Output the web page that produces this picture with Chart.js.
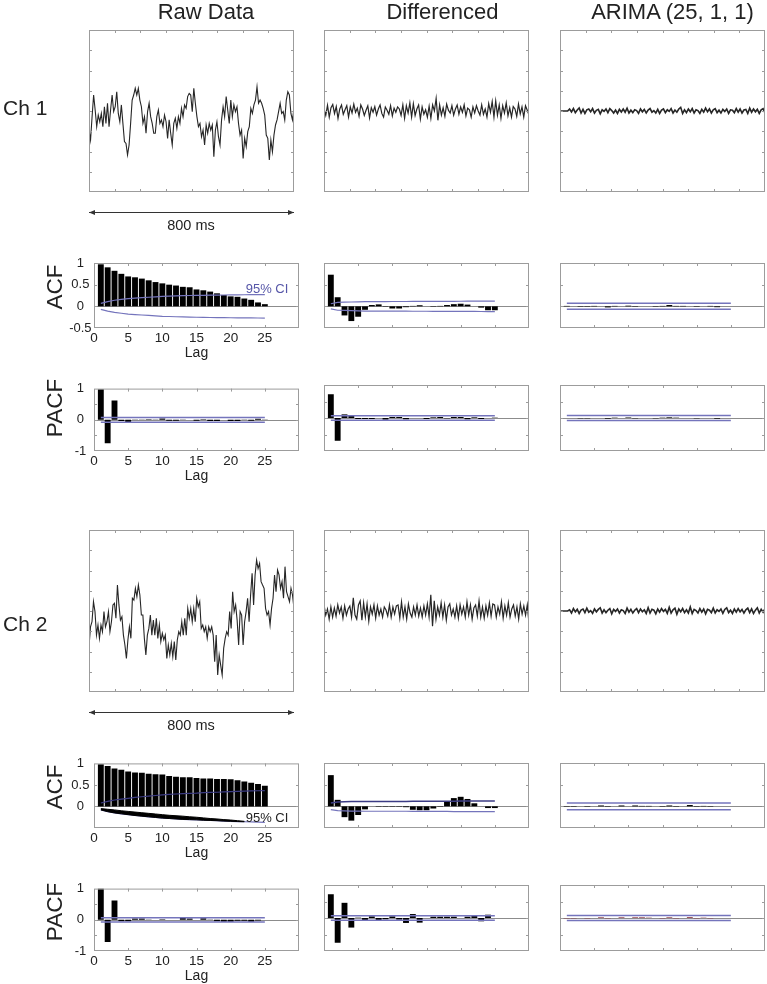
<!DOCTYPE html>
<html>
<head>
<meta charset="utf-8">
<title>Raw / Differenced / ARIMA ACF-PACF</title>
<script src="https://cdn.jsdelivr.net/npm/chart.js@4.4.1/dist/chart.umd.min.js"></script>
<style>
  html, body { margin: 0; padding: 0; background: #fff; }
  body { font-family: "Liberation Sans", Arial, Helvetica, sans-serif; color: #222; }
  #fig { position: relative; width: 767px; height: 984px; overflow: hidden; }
  #fig canvas { position: absolute; }
  #ov { position: absolute; left: 0; top: 0; }
  .lbl { position: absolute; white-space: nowrap; line-height: 1; transform: translate(-50%, -50%); }
  .col { font-size: 22px; }
  .ch { font-size: 21px; transform: translate(0, -50%); }
  .fn { font-size: 22.5px; transform: translate(-50%, -50%) rotate(-90deg); }
  .span { font-size: 14.5px; }
  .ci { font-size: 13px; }
</style>
</head>
<body>
<div id="fig">
  <svg id="ov" width="767" height="984">
    <defs>
      <marker id="ah" viewBox="0 0 10 10" refX="10" refY="5" markerWidth="7" markerHeight="6" orient="auto-start-reverse">
        <path d="M0,1 L10,5 L0,9 z" fill="#333"></path>
      </marker>
    </defs>
    <line x1="89" y1="212.5" x2="294" y2="212.5" stroke="#333" stroke-width="1" marker-start="url(#ah)" marker-end="url(#ah)"></line>
    <line x1="89" y1="712.5" x2="294" y2="712.5" stroke="#333" stroke-width="1" marker-start="url(#ah)" marker-end="url(#ah)"></line>
  </svg>
</div>
<script>
// ---- data ----
const columnTitles = ['Raw Data', 'Differenced', 'ARIMA (25, 1, 1)'];
const channelNames = ['Ch 1', 'Ch 2'];
const spanMs = 800;
const lags = [1, 2, 3, 4, 5, 6, 7, 8, 9, 10, 11, 12, 13, 14, 15, 16, 17, 18, 19, 20, 21, 22, 23, 24, 25];
const lagTicks = [0, 5, 10, 15, 20, 25];
const acfTicksCh1 = [-0.5, 0, 0.5, 1];
const acfTicksCh2 = [0, 0.5, 1];
const pacfTicks = [-1, 0, 1];

// signals (arbitrary units)
const ch1Raw = [-0.94,-1.43,-0.28,0.79,0.05,-0.77,-0.2,-0.53,-0.12,-0.77,0.21,-0.61,0.38,-0.77,0.05,0.79,-0.03,0.21,0.95,-0.12,-0.53,0.3,-0.61,-1.51,-1.6,-2.17,-1.68,-0.61,0.54,0.79,1.12,0.79,1.12,0.54,0.21,-0.61,-0.28,-1.1,-0.03,0.38,-0.28,-0.61,-1.1,-1.1,-0.28,0.05,-0.61,-0.44,-0.77,-0.2,-0.53,-1.35,-0.44,-1.1,-1.68,-0.61,-0.36,-0.86,-0.28,-0.61,0.13,-0.28,0.3,0.13,0.71,0.87,
  0.79,-0.03,1.12,0.38,-0.28,-0.77,-0.61,-1.27,-0.94,-1.68,-0.69,-1.1,-0.61,-0.94,-0.69,-2.26,-0.94,-0.53,-1.27,-1.68,-0.44,0.21,-0.28,0.71,0.05,-0.61,0.54,-0.28,0.3,-0.03,0.21,-0.61,-1.19,-0.94,-2.34,-1.35,-1.76,-1.02,-0.77,0.13,-0.12,0.3,0.54,1.2,0.38,0.54,0.38,0.13,-0.2,-1.19,-1.35,-2.42,-1.43,-2.01,-1.19,-0.69,-0.44,-0.03,0.38,-0.12,-0.03,-0.44,0.54,0.95,0.79,-0.12,-0.44,0.13];
const ch2Raw = [-1.76,-0.78,-0.53,0.46,-0.03,-1.19,-0.69,-1.35,-0.69,-1.02,-0.03,-0.78,-0.53,-0.03,-1.02,-0.53,0.3,0.38,-0.36,1.28,0.3,-0.45,-0.28,-1.19,-1.68,-2.34,-1.43,-0.78,-1.35,0.63,0.54,1.12,0.71,1.28,0.79,-0.2,-0.2,-1.35,-2.17,-1.19,-0.86,-0.2,-1.19,-0.45,-1.19,-0.36,-1.35,-0.69,-1.51,-1.1,-1.43,-1.19,-2.34,-1.68,-2.17,-1.6,-2.26,-1.51,-2.42,-1.43,-1.02,-1.19,-0.53,-1.19,-0.36,-1.19,0.13,-0.36,0.13,-0.53,
  0.13,-0.53,0.63,0.21,0.46,-0.86,-0.69,-1.02,-0.78,-1.35,-0.78,-1.02,-0.78,-1.19,-2.5,-1.19,-3.16,-2.17,-2.67,-3.16,-1.84,-1.35,-1.02,-1.19,-0.03,-0.86,0.95,-0.03,0.3,-0.45,-1.68,-0.03,-0.2,-1.68,-0.53,-0.03,0.63,-0.53,0.79,1.86,0.3,1.78,2.52,2.1,2.35,1.45,1.28,1.12,0.13,-0.2,-0.03,-0.69,0.13,0.63,1.78,0.95,2.02,1.78,1.12,1.45,0.63,2.19,0.95,0.71,0.46,1.12,0.79,0.13];
const ch1Diff = [0.12,-0.22,0.28,-0.30,0.16,0.32,-0.12,0.22,-0.36,0.10,0.30,-0.16,0.06,0.26,-0.30,0.20,-0.10,0.34,-0.06,0.14,-0.26,0.30,0.10,-0.22,0.04,0.26,-0.34,0.16,-0.06,0.22,-0.20,0.10,0.30,-0.12,-0.30,0.20,0.04,-0.16,0.26,-0.24,0.14,-0.06,0.20,0.10,-0.22,0.30,-0.36,0.26,-0.10,0.40,-0.30,0.36,-0.22,0.10,0.30,-0.40,0.20,-0.16,0.06,-0.30,0.24,-0.36,0.30,0.00,0.62,-0.46,0.30,-0.20,0.16,-0.26,0.34,0.04,-0.10,0.26,-0.20,0.10,0.30,-0.16,0.20,-0.06,0.30,-0.24,0.14,0.06,-0.30,0.20,-0.10,0.26,0.00,-0.20,0.30,-0.16,0.10,-0.30,0.36,-0.06,0.46,-0.30,0.50,-0.20,0.30,-0.36,0.26,-0.10,0.40,-0.24,0.16,-0.30,0.22,0.10,-0.26,0.34,-0.14,0.20,-0.30,0.26,0.04,-0.20];
const ch2Diff = [0.3,-0.2,0.1,-0.4,0.2,-0.3,0.15,-0.25,0.3,-0.1,0.2,-0.35,0.25,-0.2,0.1,0.25,-0.3,0.65,-0.2,-0.4,0.3,0.5,-0.45,0.4,-0.3,0.35,-0.5,0.2,-0.15,0.3,-0.35,0.25,-0.2,0.1,-0.3,0.2,0.05,-0.25,0.3,-0.3,0.2,-0.15,0.25,0.3,-0.35,0.45,-0.3,0.2,-0.4,0.35,-0.1,-0.3,0.2,-0.2,0.3,-0.25,0.15,-0.3,0.25,-0.2,0.35,-0.3,0.8,-0.75,0.5,-0.4,0.2,-0.2,0.4,-0.3,0.3,-0.45,0.2,0.35,-0.2,0.1,-0.3,0.25,-0.35,0.3,-0.15,0.2,-0.3,0.45,-0.2,0.3,-0.4,0.15,0.3,-0.25,0.5,-0.3,0.2,-0.35,0.25,-0.2,0.4,-0.25,0.35,0.3,-0.3,0.2,-0.15,0.45,-0.35,0.25,-0.2,0.4,-0.3,0.1,0.3,-0.25,0.2,-0.4,0.35,-0.15,0.25,-0.2,0.3,-0.6];
const ch1Arima = [0,0,0,0,0,0.1,-0.05,0.12,-0.08,0.05,0.15,-0.1,0.08,-0.12,0.06,0.1,-0.04,0.12,-0.1,0.03,0.08,-0.14,0.06,-0.02,0.1,-0.08,0.12,0.02,-0.1,0.05,-0.12,0.08,-0.05,0.1,-0.06,0.14,-0.1,0.04,-0.08,0.06,0.02,-0.12,0.1,-0.04,0.08,-0.1,0.05,0.12,-0.06,0.02,-0.1,0.08,-0.12,0.04,0.1,-0.08,0.06,-0.02,0.12,-0.1,0.05,-0.06,0.1,0.18,-0.12,0.06,-0.08,0.1,-0.04,0.12,-0.1,0.06,0.02,-0.12,0.08,-0.06,0.14,-0.04,0.1,-0.1,0.06,0.12,-0.08,0.04,-0.1,0.08,-0.02,0.1,-0.12,0.06,0.04,-0.08,0.12,-0.06,0.1,-0.1,0.05,0.08,-0.12,0.14,-0.06,0.1,-0.04,0.08,-0.12,0.06,0.12,-0.1];
const ch2Arima = [0,0,0,0,0,0.06,-0.1,0.12,-0.04,0.08,-0.12,0.05,0.1,-0.08,0.14,-0.06,0.02,-0.12,0.1,-0.04,0.08,0.16,-0.1,0.06,-0.08,0.04,0.12,-0.14,0.08,-0.02,0.1,-0.1,0.06,0.02,-0.12,0.14,-0.06,0.08,-0.1,0.04,0.12,-0.08,0.1,-0.04,0.06,-0.12,0.16,-0.1,0.08,0.04,-0.14,0.1,-0.06,0.12,-0.02,0.08,-0.12,0.18,-0.1,0.06,0.14,-0.16,0.1,-0.04,0.12,-0.08,0.06,-0.1,0.2,-0.12,0.08,0.02,-0.1,0.12,-0.06,0.1,-0.14,0.08,0.04,-0.08,0.14,-0.1,0.06,-0.02,0.1,-0.12,0.08,0.16,-0.08,0.04,-0.12,0.1,-0.06,0.12,-0.04,0.08,-0.1,0.06,0.14,-0.08,0.1,-0.12,0.04,0.16,-0.1,0.08,-0.06,0.12];

// autocorrelations, lags 1..25
const ch1RawAcf = [0.97,0.90,0.82,0.75,0.69,0.67,0.64,0.60,0.56,0.53,0.50,0.48,0.45,0.44,0.39,0.37,0.34,0.30,0.26,0.23,0.22,0.18,0.15,0.09,0.05];
const ch1DiffAcf = [0.73,0.21,-0.21,-0.34,-0.24,-0.08,0.03,0.045,-0.01,-0.05,-0.05,-0.02,0.01,0.025,0.0,-0.01,0.01,0.03,0.05,0.06,0.04,0.0,-0.03,-0.09,-0.09];
const ch1ArimaAcf = [0.01,0.0,-0.01,-0.01,0.01,0.0,-0.025,0.01,0.0,0.015,-0.01,0.0,0.0,-0.01,0.01,0.03,0.01,0.01,0.0,-0.01,0.0,0.01,-0.02,0.0,0.0];
const ch1RawPacf = [0.98,-0.75,0.62,-0.04,-0.08,-0.01,0.01,0.02,0.01,0.04,-0.03,-0.03,0.01,0.0,-0.03,0.02,-0.04,-0.04,0.0,-0.04,-0.04,0.01,-0.03,0.03,-0.01];
const ch1DiffPacf = [0.72,-0.69,0.11,0.06,-0.03,-0.03,-0.03,0.0,-0.05,0.03,0.03,-0.04,0.0,0.0,-0.03,0.02,0.03,-0.01,0.03,0.03,-0.04,0.02,-0.03,0.0,0.01];
const ch1ArimaPacf = [0.0,0.0,-0.01,-0.01,0.0,0.0,-0.02,0.01,0.0,0.015,-0.01,0.0,0.0,-0.01,0.01,0.02,0.01,0.0,0.0,-0.01,0.0,0.0,-0.02,0.0,0.0];

const ch2RawAcf = [0.98,0.94,0.88,0.85,0.81,0.79,0.78,0.76,0.75,0.74,0.71,0.69,0.68,0.68,0.66,0.65,0.65,0.64,0.64,0.63,0.61,0.58,0.55,0.52,0.48];
const ch2DiffAcf = [0.72,0.15,-0.25,-0.33,-0.20,-0.07,0.0,-0.01,-0.01,-0.01,-0.01,-0.02,-0.08,-0.09,-0.09,-0.05,-0.01,0.10,0.19,0.22,0.17,0.07,0.0,-0.04,-0.04];
const ch2ArimaAcf = [-0.01,-0.01,0.0,-0.01,0.0,0.02,-0.01,0.0,0.02,0.0,0.02,0.01,0.01,0.0,-0.01,0.02,-0.01,0.0,0.03,-0.01,0.01,-0.01,0.0,0.0,0.0];
const ch2RawPacf = [1.0,-0.71,0.62,-0.05,-0.05,0.04,0.04,-0.01,0.0,0.02,0.0,0.0,0.07,0.04,0.0,0.05,0.01,-0.05,-0.06,-0.06,-0.03,-0.03,-0.06,-0.02,0.0];
const ch2DiffPacf = [0.72,-0.75,0.46,-0.29,0.01,-0.06,0.05,-0.06,-0.04,0.05,-0.05,-0.15,0.12,-0.14,0.0,0.04,0.04,0.04,0.04,0.0,0.04,0.06,-0.10,0.10,0.0];
const ch2ArimaPacf = [-0.01,-0.01,0.0,-0.01,0.0,0.02,-0.01,0.0,0.02,0.0,0.02,0.02,0.01,0.0,-0.01,0.02,-0.01,0.0,0.025,-0.01,0.01,-0.01,0.0,0.0,0.0];

// 95% confidence bounds
const ch1RawAcfCi = [0.07,0.11,0.14,0.16,0.18,0.19,0.2,0.21,0.22,0.23,0.235,0.24,0.245,0.25,0.252,0.255,0.258,0.26,0.262,0.264,0.266,0.267,0.268,0.269,0.27];
const ch1DiffAcfCi = [0.06,0.09,0.095,0.1,0.105,0.11,0.11,0.11,0.11,0.112,0.112,0.112,0.114,0.114,0.114,0.115,0.115,0.115,0.116,0.117,0.118,0.118,0.119,0.12,0.12];
const ch2RawAcfCi = [0.08,0.12,0.15,0.17,0.19,0.21,0.225,0.24,0.255,0.27,0.28,0.29,0.3,0.305,0.31,0.32,0.325,0.33,0.34,0.345,0.35,0.355,0.36,0.365,0.37];
const ch2RawAcfBand = [0.05,0.065,0.08,0.1,0.115,0.13,0.145,0.16,0.175,0.19,0.205,0.215,0.225,0.24,0.25,0.265,0.28,0.29,0.305,0.315,0.33,0.345];
const ch2DiffAcfCi = [0.077,0.1,0.105,0.11,0.112,0.113,0.113,0.113,0.113,0.113,0.114,0.114,0.115,0.116,0.116,0.117,0.117,0.118,0.12,0.122,0.123,0.123,0.123,0.123,0.124];
const ch1ArimaAcfCi = 0.07, ch2ArimaAcfCi = 0.077;
const ch1RawPacfCi = 0.075, ch1DiffPacfCi = 0.07, ch1ArimaPacfCi = 0.072;
const ch2RawPacfCi = 0.068, ch2DiffPacfCi = 0.07, ch2ArimaPacfCi = 0.075;

// ---- layout ----
const colX = [89, 324, 560];
const lagColX = [94, 324, 560];
const boxW = 205;
const rowTop = [0, 500];
const PAD = { l: 60, t: 12, r: 12, b: 34 };
const CI_BLUE = '#7474bc';
const CI_DARK = '#3c3c84';

Chart.defaults.font.family = '"Liberation Sans", Arial, Helvetica, sans-serif';
Chart.defaults.color = '#222';

// box with inward tick marks, plus optional zero line
const frame = {
  id: 'frame',
  beforeDatasetsDraw(chart, args, o) {
    if (!o.zero) return;
    const { ctx, chartArea: a } = chart;
    const py = Math.round(chart.scales.y.getPixelForValue(0)) + 0.5;
    ctx.save();
    ctx.strokeStyle = '#8c8c8c';
    ctx.lineWidth = 1;
    ctx.beginPath();
    ctx.moveTo(a.left, py);
    ctx.lineTo(a.right, py);
    ctx.stroke();
    ctx.restore();
  },
  afterDraw(chart) {
    const { ctx, chartArea: a, scales: { x, y } } = chart;
    ctx.save();
    ctx.strokeStyle = '#9c9c9c';
    ctx.lineWidth = 1;
    ctx.strokeRect(a.left + 0.5, a.top + 0.5, a.width - 1, a.height - 1);
    ctx.beginPath();
    x.ticks.forEach(t => {
      const px = Math.round(x.getPixelForValue(t.value)) + 0.5;
      if (px < a.left + 2 || px > a.right - 2) return;
      ctx.moveTo(px, a.top); ctx.lineTo(px, a.top + 3);
      ctx.moveTo(px, a.bottom); ctx.lineTo(px, a.bottom - 3);
    });
    y.ticks.forEach(t => {
      const py = Math.round(y.getPixelForValue(t.value)) + 0.5;
      if (py < a.top + 2 || py > a.bottom - 2) return;
      ctx.moveTo(a.left, py); ctx.lineTo(a.left + 3, py);
      ctx.moveTo(a.right, py); ctx.lineTo(a.right - 3, py);
    });
    ctx.stroke();
    ctx.restore();
  }
};

const fig = document.getElementById('fig');

function panel(box, type, datasets, sc) {
  const cv = document.createElement('canvas');
  const W = box.w + PAD.l + PAD.r, H = box.h + PAD.t + PAD.b;
  cv.width = W; cv.height = H;
  cv.style.left = (box.x - PAD.l) + 'px';
  cv.style.top = (box.y - PAD.t) + 'px';
  cv.style.width = W + 'px';
  cv.style.height = H + 'px';
  fig.appendChild(cv);
  new Chart(cv, {
    type: type,
    data: { datasets: datasets },
    options: {
      responsive: false,
      animation: false,
      events: [],
      layout: { padding: { left: 0, top: PAD.t, right: PAD.r, bottom: 0 } },
      plugins: { legend: { display: false }, tooltip: { enabled: false }, frame: { zero: !!sc.zero } },
      scales: {
        x: {
          type: 'linear', min: sc.xMin, max: sc.xMax, offset: false,
          grid: { display: false, drawTicks: false }, border: { display: false },
          afterFit: s => { s.height = PAD.b; },
          ticks: {
            stepSize: sc.xStep, display: !!sc.xLabels, autoSkip: false, maxRotation: 0, padding: 2,
            font: { size: 13.5 },
            callback: v => (sc.xLabels && sc.xLabels.includes(v)) ? v : ''
          },
          title: { display: !!sc.xTitle, text: sc.xTitle, font: { size: 14 }, padding: { top: 0, bottom: 0.6 } }
        },
        y: {
          min: sc.yMin, max: sc.yMax,
          grid: { display: false, drawTicks: false }, border: { display: false },
          afterFit: s => { s.width = PAD.l; },
          ticks: {
            stepSize: sc.yStep, display: !!sc.yLabels, autoSkip: false, crossAlign: 'center',
            padding: sc.yPad || 2, font: { size: 13 },
            callback: v => (sc.yLabels && sc.yLabels.includes(v)) ? v : ''
          }
        }
      }
    },
    plugins: [frame]
  });
}

const toSeries = arr => arr.map((v, i) => ({ x: i * spanMs / (arr.length - 1), y: v }));
const toLag = arr => arr.map((v, i) => ({ x: lags[i], y: v }));
const neg = arr => arr.map(v => -v);
const flat = c => [{ x: lags[0], y: c }, { x: lags[lags.length - 1], y: c }];

function signalPanel(col, row, values, width) {
  panel({ x: colX[col], y: 30 + rowTop[row], w: boxW, h: 162 }, 'line', [{
    data: toSeries(values), borderColor: '#262626', borderWidth: width, pointRadius: 0, tension: 0
  }], { xMin: 0, xMax: spanMs, xStep: 100, yMin: -4, yMax: 4, yStep: 1 });
}

function ciLine(data, color, width) {
  return { type: 'line', data: data, borderColor: color, borderWidth: width || 1.2, pointRadius: 0, tension: 0, order: 1 };
}
function bars(values, color) {
  return { type: 'bar', data: toLag(values), backgroundColor: color || '#000', borderWidth: 0,
    barPercentage: 0.86, categoryPercentage: 1, order: 2 };
}

function corrPanel(col, row, kind, ds, yLabels, yPad) {
  const isAcf = kind === 'acf';
  const raw = col === 0;
  panel({ x: lagColX[col], y: (isAcf ? 263 : 385) + rowTop[row], w: boxW, h: isAcf ? 65 : 66 }, 'bar', ds, {
    xMin: 0, xMax: 30, xStep: 5, yMin: isAcf ? -0.5 : -1, yMax: 1, yStep: 0.5, zero: true,
    xLabels: raw ? lagTicks : null, xTitle: raw ? 'Lag' : null,
    yLabels: raw ? yLabels : null, yPad: yPad
  });
}

// signals
signalPanel(0, 0, ch1Raw, 1.1); signalPanel(1, 0, ch1Diff, 1.2); signalPanel(2, 0, ch1Arima, 1.6);
signalPanel(0, 1, ch2Raw, 1.1); signalPanel(1, 1, ch2Diff, 1.2); signalPanel(2, 1, ch2Arima, 1.6);

// Ch 1 ACF
corrPanel(0, 0, 'acf', [ciLine(toLag(ch1RawAcfCi), CI_BLUE), ciLine(toLag(neg(ch1RawAcfCi)), CI_BLUE), bars(ch1RawAcf)], acfTicksCh1, 2.4);
corrPanel(1, 0, 'acf', [ciLine(toLag(ch1DiffAcfCi), CI_BLUE), ciLine(toLag(neg(ch1DiffAcfCi)), CI_BLUE), bars(ch1DiffAcf)]);
corrPanel(2, 0, 'acf', [ciLine(flat(ch1ArimaAcfCi), CI_BLUE, 1.5), ciLine(flat(-ch1ArimaAcfCi), CI_BLUE, 1.5), bars(ch1ArimaAcf)]);
// Ch 1 PACF
corrPanel(0, 0, 'pacf', [ciLine(flat(ch1RawPacfCi), CI_BLUE, 1.5), ciLine(flat(-ch1RawPacfCi), CI_BLUE, 1.5), bars(ch1RawPacf)], pacfTicks, 7.8);
corrPanel(1, 0, 'pacf', [ciLine(flat(ch1DiffPacfCi), CI_BLUE, 1.5), ciLine(flat(-ch1DiffPacfCi), CI_BLUE, 1.5), bars(ch1DiffPacf)]);
corrPanel(2, 0, 'pacf', [ciLine(flat(ch1ArimaPacfCi), CI_BLUE, 1.5), ciLine(flat(-ch1ArimaPacfCi), CI_BLUE, 1.5), bars(ch1ArimaPacf)]);

// Ch 2 ACF (black band along the lower bound of the raw panel)
const bandTop = toLag(neg(ch2RawAcfBand));
const bandBottom = toLag(neg(ch2RawAcfCi)).slice(0, ch2RawAcfBand.length);
corrPanel(0, 1, 'acf', [
  ciLine(toLag(ch2RawAcfCi), CI_DARK),
  Object.assign(ciLine(bandTop, '#000', 1), { fill: '+1', backgroundColor: '#000' }),
  ciLine(bandBottom, '#000', 1),
  ciLine(toLag(neg(ch2RawAcfCi)), CI_BLUE),
  bars(ch2RawAcf)
], acfTicksCh2, 4.6);
corrPanel(1, 1, 'acf', [ciLine(toLag(ch2DiffAcfCi), CI_DARK, 1.5), ciLine(toLag(neg(ch2DiffAcfCi)), CI_BLUE), bars(ch2DiffAcf)]);
corrPanel(2, 1, 'acf', [ciLine(flat(ch2ArimaAcfCi), CI_BLUE, 1.5), ciLine(flat(-ch2ArimaAcfCi), CI_BLUE, 1.5), bars(ch2ArimaAcf)]);
// Ch 2 PACF
corrPanel(0, 1, 'pacf', [ciLine(flat(ch2RawPacfCi), CI_BLUE, 1.5), ciLine(flat(-ch2RawPacfCi), CI_BLUE, 1.5), bars(ch2RawPacf)], pacfTicks, 7.8);
corrPanel(1, 1, 'pacf', [ciLine(flat(ch2DiffPacfCi), CI_BLUE, 1.5), ciLine(flat(-ch2DiffPacfCi), CI_BLUE, 1.5), bars(ch2DiffPacf)]);
corrPanel(2, 1, 'pacf', [ciLine(flat(ch2ArimaPacfCi), CI_BLUE, 1.5), ciLine(flat(-ch2ArimaPacfCi), CI_BLUE, 1.5), bars(ch2ArimaPacf, '#8b3040')]);

// ---- text ----
function label(text, cls, x, y, color) {
  const d = document.createElement('div');
  d.className = 'lbl ' + cls;
  d.textContent = text;
  d.style.left = x + 'px';
  d.style.top = y + 'px';
  if (color) d.style.color = color;
  fig.appendChild(d);
}
[206, 442.5, 672.5].forEach((x, i) => label(columnTitles[i], 'col', x, 12));
label(channelNames[0], 'ch', 3, 107);
label(channelNames[1], 'ch', 3, 623);
label(spanMs + ' ms', 'span', 191, 225);
label(spanMs + ' ms', 'span', 191, 725);
label('ACF', 'fn', 55, 287);
label('PACF', 'fn', 55, 407.5);
label('ACF', 'fn', 55, 786.5);
label('PACF', 'fn', 55, 912);
label('95% CI', 'ci', 267, 288, '#5656a8');
label('95% CI', 'ci', 267, 817, '#222');
</script>
</body>
</html>
